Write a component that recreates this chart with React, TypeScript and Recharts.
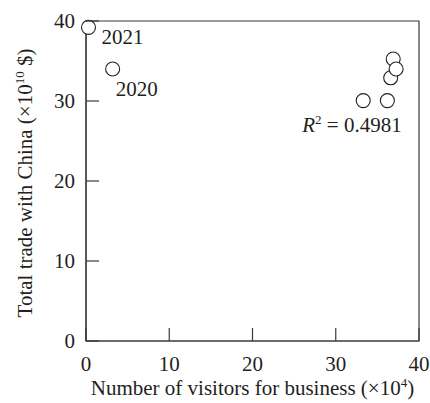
import React from 'react';
import { ScatterChart, Scatter, XAxis, YAxis, ReferenceArea, ReferenceDot } from 'recharts';

// business visitors (x10^4) vs total trade with China (x10^10 $)
const visitors = [0.3, 3.2, 33.3, 36.2, 36.6, 36.9, 37.25];
const trade = [39.2, 34.0, 30.05, 30.05, 32.9, 35.25, 34.0];
const years = ['2021', '2020', '', '', '', '', ''];
const xTicks = [0, 10, 20, 30, 40];
const yTicks = [0, 10, 20, 30, 40];
const rSquared = '0.4981';
const rSquaredAt = { x: 26.1, y: 26.05 };

const points = visitors.map((v, i) => ({ x: v, y: trade[i], year: years[i] }));

const FONT = 'Liberation Serif, Times New Roman, serif';
const INK = '#231f20';
const AXIS = '#3a3a3a';
const FS = 21;
const SUP = 13;
const txt = { fontFamily: FONT, fontSize: FS, fill: INK };

// offsets of the year text from its circle centre
const yearOffset: Record<string, [number, number]> = {
  '2021': [13, 17],
  '2020': [3, 27],
};

const Point = (props: any) => {
  const { cx, cy, payload } = props;
  const off = yearOffset[payload.year];
  return (
    <g>
      <circle cx={cx} cy={cy} r={7} fill="#fff" stroke={INK} strokeWidth={1.1} />
      {off && (
        <text x={cx + off[0]} y={cy + off[1]} style={txt}>
          {payload.year}
        </text>
      )}
    </g>
  );
};

const XTick = ({ x, y, payload }: any) => (
  <g>
    <line x1={x} x2={x} y1={y} y2={y - 13} stroke={AXIS} strokeWidth={1.2} />
    <text x={x} y={y + 30} textAnchor="middle" style={txt}>
      {payload.value}
    </text>
  </g>
);

const YTick = ({ x, y, payload }: any) => (
  <g>
    <line x1={x} x2={x + 13} y1={y} y2={y} stroke={AXIS} strokeWidth={1.2} />
    <text x={x - 11} y={y + 7} textAnchor="end" style={txt}>
      {payload.value}
    </text>
  </g>
);

const XTitle = ({ viewBox }: any) => (
  <text x={viewBox.x + viewBox.width / 2} y={viewBox.y + 54} textAnchor="middle" style={txt}>
    Number of visitors for business (×10
    <tspan style={{ fontSize: SUP }} dy={-8}>4</tspan>
    <tspan dy={8}>)</tspan>
  </text>
);

const YTitle = ({ viewBox }: any) => {
  const cx = 32;
  const cy = viewBox.y + viewBox.height / 2 + 2;
  return (
    <text x={cx} y={cy} transform={`rotate(-90 ${cx} ${cy})`} textAnchor="middle" style={txt}>
      Total trade with China (×10
      <tspan style={{ fontSize: SUP }} dy={-8}>10</tspan>
      <tspan dy={8}> $)</tspan>
    </text>
  );
};

const RLabel = ({ viewBox }: any) => (
  <text x={viewBox.x} y={viewBox.y} style={txt}>
    <tspan style={{ fontStyle: 'italic' }}>R</tspan>
    <tspan style={{ fontSize: SUP }} dy={-8}>2</tspan>
    <tspan dy={8}> = {rSquared}</tspan>
  </text>
);

export default function App() {
  return (
    <div style={{ position: 'absolute', left: 0, top: 0, background: '#fff' }}>
      <ScatterChart
        width={430}
        height={403}
        margin={{ top: 21, right: 11, bottom: 12, left: 26 }}
      >
        <XAxis
          type="number"
          dataKey="x"
          domain={[0, 40]}
          ticks={xTicks}
          tick={<XTick />}
          tickLine={false}
          tickSize={0}
          tickMargin={0}
          height={50}
          stroke={AXIS}
          strokeWidth={1.2}
          label={<XTitle />}
        />
        <YAxis
          type="number"
          dataKey="y"
          domain={[0, 40]}
          ticks={yTicks}
          tick={<YTick />}
          tickLine={false}
          tickSize={0}
          tickMargin={0}
          width={60}
          stroke={AXIS}
          strokeWidth={1.2}
          label={<YTitle />}
        />
        <ReferenceArea x1={0} x2={40} y1={0} y2={40} fill="none" stroke={AXIS} strokeWidth={1.2} />
        <ReferenceDot
          x={rSquaredAt.x}
          y={rSquaredAt.y}
          r={1}
          fill="none"
          stroke="none"
          label={<RLabel />}
        />
        <Scatter data={points} shape={<Point />} isAnimationActive={false} />
      </ScatterChart>
    </div>
  );
}
